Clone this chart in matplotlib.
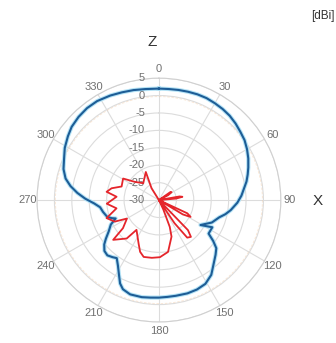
import numpy as np
import matplotlib
matplotlib.use("Agg")
import matplotlib.pyplot as plt
from matplotlib.transforms import offset_copy

# blue trace: angle (deg, clockwise from Z) and gain (dBi), path order
theta_blue = [0, 5, 10, 15, 20, 25, 30, 35, 40, 45, 50, 55, 60, 65, 70, 74, 78, 82,
              87, 92, 98, 102, 106, 113, 121, 117, 124, 127, 130, 134, 139, 145, 151,
              157, 163, 170, 175, 180, 185, 190, 197, 202, 205, 208, 212, 216, 219,
              223, 227, 231, 234, 238, 243, 247, 249, 252, 258, 263, 267, 271, 275,
              279, 283, 288, 293, 299, 305, 310, 316, 322, 328, 335, 341, 347, 353, 360]
gain_blue = [2.0, 2.0, 2.1, 2.2, 2.3, 2.3, 2.1, 1.9, 1.6, 1.1, 0.5, 0.0, -0.8, -1.7,
             -2.7, -3.5, -4.3, -5.3, -6.3, -7.5, -9.2, -10.5, -12.0, -13.5, -16.1,
             -12.8, -12.8, -10.5, -8.5, -7.4, -6.0, -3.8, -2.5, -2.1, -2.0, -2.1,
             -2.1, -2.0, -1.9, -1.7, -1.7, -2.4, -3.6, -5.6, -7.8, -9.4, -8.9, -8.3,
             -8.6, -9.8, -11.2, -13.0, -14.5, -16.5, -15.5, -14.4, -13.6, -13.0,
             -11.4, -8.9, -6.5, -4.3, -2.5, -1.2, -0.4, 0.9, 1.9, 2.7, 3.2, 3.5, 3.5,
             3.1, 2.7, 2.4, 2.1, 2.0]

# red trace (path order)
theta_red = [340, 328, 335, 317, 307, 301, 290, 284, 279, 274.5, 266, 259, 251, 244,
             240, 232, 229, 220, 217, 205, 200, 195, 187, 179, 170, 161, 158, 155, 150,
             136, 139, 143, 146, 150, 115, 118, 121, 125, 80, 82, 85, 70, 55, 58, 62, 40]
gain_red = [-30, -26, -21.1, -23.4, -21.3, -18.0, -18.6, -16.0, -14.8, -17.8, -15.0,
            -17.6, -14.1, -15.9, -19.4, -16.9, -12.6, -15.6, -19.3, -16.2, -14.2, -13.1,
            -13.3, -13.6, -14.9, -18.9, -21.7, -27, -30, -18, -16.0, -16.5, -22, -30,
            -21, -19.7, -22, -30, -24, -23.2, -25, -30, -26, -25.7, -27, -30]

angle_ticks = list(range(0, 360, 30))
r_ticks = [5, 0, -5, -10, -15, -20, -25, -30]

fig = plt.figure(figsize=(3.36, 3.43), dpi=100)
ax = fig.add_axes([0.110, 0.0612, 0.726, 0.711], projection='polar')
ax.set_theta_zero_location('N')
ax.set_theta_direction(-1)
ax.set_rlim(-30, 5)
ax.set_rticks(r_ticks)
ax.set_yticklabels([])
ax.set_thetagrids(angle_ticks, [str(a) for a in angle_ticks], fontsize=8,
                  color='#707070', family='Liberation Sans')
ax.tick_params(axis='x', pad=-4)
ax.grid(color='#dcdcdc', lw=0.8)
ax.spines['polar'].set_color('#d0d0d0')
ax.spines['polar'].set_linewidth(0.8)

# faint extra ring
ang = np.deg2rad(np.arange(0, 361, 2))
ax.plot(ang, np.zeros_like(ang) - 0.3, color='#f5c9a0', lw=0.6, alpha=0.45, ls=(0, (3, 2)))

tb = np.deg2rad(theta_blue)
ax.plot(tb, gain_blue, color='#b5e3f6', lw=3.0, zorder=3)
ax.plot(tb, gain_blue, color='#1d5d96', lw=1.5, zorder=4)
ax.plot(np.deg2rad(theta_red), gain_red, color='#e5252b', lw=1.3, zorder=5)

tr = offset_copy(ax.transData, fig=fig, x=-14 * 72 / 100, y=0, units='points')
for r in r_ticks:
    ax.text(0, r, str(r), transform=tr, ha='right', va='center', fontsize=8,
            color='#707070', family='Liberation Sans', zorder=3)

fig.text(152 / 336, 1 - 42 / 343, 'Z', ha='center', va='center', fontsize=11,
         color='#333333', family='Liberation Sans')
fig.text(318 / 336, 1 - 201 / 343, 'X', ha='center', va='center', fontsize=11,
         color='#333333', family='Liberation Sans')
fig.text(335 / 336, 1 - 16 / 343, '[dBi]', ha='right', va='center', fontsize=8.5,
         color='#333333', family='Liberation Sans')

fig.savefig('out.png', dpi=100)
